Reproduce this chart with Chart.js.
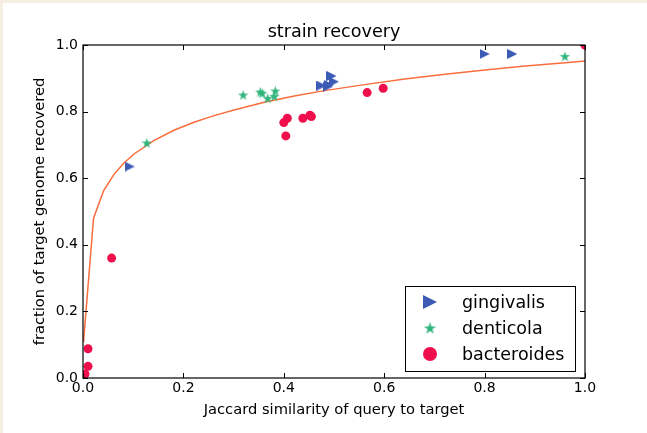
<!DOCTYPE html>
<html><head><meta charset="utf-8">
<script src="https://cdn.jsdelivr.net/npm/chart.js@4"></script>
<style>
html,body{margin:0;padding:0;background:#f4efe2;}
#wrap{position:absolute;left:3px;top:3px;width:644px;height:430px;background:#fff;}
canvas{display:block;}
</style></head><body>
<div id="wrap"><canvas id="c" width="644" height="430"></canvas></div>
<script>
const TITLE = 'strain recovery';
const X_LABEL = 'Jaccard similarity of query to target';
const Y_LABEL = 'fraction of target genome recovered';
const SERIES_NAMES = ['gingivalis', 'denticola', 'bacteroides'];

const gingivalisX = [0.093, 0.475, 0.488, 0.490, 0.495, 0.500, 0.800, 0.855];
const gingivalisY = [0.635, 0.878, 0.875, 0.880, 0.907, 0.890, 0.973, 0.973];

const denticolaX = [0.127, 0.319, 0.353, 0.357, 0.368, 0.381, 0.383, 0.960];
const denticolaY = [0.706, 0.850, 0.859, 0.855, 0.840, 0.846, 0.862, 0.966];

const bacteroidesX = [0.000, 0.004, 0.010, 0.010, 0.057, 0.400, 0.407, 0.404, 0.438, 0.452, 0.455, 0.566, 0.598, 1.000];
const bacteroidesY = [0.000, 0.012, 0.035, 0.088, 0.360, 0.767, 0.780, 0.727, 0.780, 0.789, 0.785, 0.857, 0.870, 1.000];

const fitX = [0.001, 0.021, 0.041, 0.061, 0.081, 0.101, 0.141, 0.181, 0.221, 0.261, 0.301, 0.361, 0.421, 0.481, 0.561, 0.641, 0.721, 0.801, 0.881, 0.961, 1.000];
const fitY = [0.108, 0.480, 0.562, 0.610, 0.645, 0.672, 0.713, 0.744, 0.768, 0.788, 0.805, 0.828, 0.847, 0.863, 0.881, 0.898, 0.912, 0.925, 0.937, 0.947, 0.952];

const xTickValues = [0.0, 0.2, 0.4, 0.6, 0.8, 1.0];
const yTickValues = [0.0, 0.2, 0.4, 0.6, 0.8, 1.0];

const BLUE = '#3b5bb5', GREEN = '#2fb47b', RED = '#ee0f4c', ORANGE = '#fb6d3c';
const F = "'DejaVu Sans', sans-serif";

function makeTriangle(s, color) {
  const c = document.createElement('canvas'); c.width = s; c.height = s;
  const g = c.getContext('2d'); g.fillStyle = color;
  g.beginPath(); g.moveTo(0, 0); g.lineTo(s, s / 2); g.lineTo(0, s); g.closePath(); g.fill();
  return c;
}
function makeStar(s, color) {
  const c = document.createElement('canvas'); c.width = s; c.height = s;
  const g = c.getContext('2d'); g.fillStyle = color;
  const R = s / 2, r = R * 0.382, cx = s / 2, cy = s / 2 + R * 0.08;
  g.beginPath();
  for (let i = 0; i < 10; i++) {
    const a = -Math.PI / 2 + i * Math.PI / 5;
    const rr = i % 2 ? r : R;
    const px = cx + rr * Math.cos(a), py = cy + rr * Math.sin(a);
    i ? g.lineTo(px, py) : g.moveTo(px, py);
  }
  g.closePath(); g.fill();
  return c;
}
function makeCircle(d, color) {
  const c = document.createElement('canvas'); c.width = d; c.height = d;
  const g = c.getContext('2d'); g.fillStyle = color;
  g.beginPath(); g.arc(d / 2, d / 2, d / 2, 0, Math.PI * 2); g.fill();
  return c;
}
const triImg = makeTriangle(10, BLUE);
const starImg = makeStar(11, GREEN);
const legendIcons = [makeTriangle(14, BLUE), makeStar(13, GREEN), makeCircle(14, RED)];

const toPts = (xs, ys) => xs.map((x, i) => ({x, y: ys[i]}));

const frameTicks = {
  id: 'frameTicks',
  afterDraw(chart) {
    const {ctx, chartArea: a, scales: {x, y}} = chart;
    ctx.save();
    ctx.strokeStyle = '#000'; ctx.lineWidth = 1.2;
    ctx.strokeRect(a.left, a.top, a.right - a.left, a.bottom - a.top);
    ctx.lineWidth = 1;
    const L = 5;
    xTickValues.forEach(v => {
      const p = Math.round(x.getPixelForValue(v)) + 0.5;
      ctx.beginPath();
      ctx.moveTo(p, a.bottom); ctx.lineTo(p, a.bottom - L);
      ctx.moveTo(p, a.top); ctx.lineTo(p, a.top + L);
      ctx.stroke();
    });
    yTickValues.forEach(v => {
      const p = Math.round(y.getPixelForValue(v)) + 0.5;
      ctx.beginPath();
      ctx.moveTo(a.left, p); ctx.lineTo(a.left + L, p);
      ctx.moveTo(a.right, p); ctx.lineTo(a.right - L, p);
      ctx.stroke();
    });
    // title centred over the plot area
    ctx.font = '17.6px ' + F; ctx.fillStyle = '#000';
    ctx.textAlign = 'center'; ctx.textBaseline = 'middle';
    ctx.fillText(TITLE, (a.left + a.right) / 2, a.top - 12.5);
    ctx.restore();
  }
};

const boxLegend = {
  id: 'boxLegend',
  afterDatasetsDraw(chart) {
    const {ctx, chartArea: a} = chart;
    const w = 170, h = 85;
    const x0 = Math.round(a.right - 10 - w), y0 = Math.round(a.bottom - 7 - h);
    ctx.save();
    ctx.fillStyle = '#fff'; ctx.fillRect(x0, y0, w, h);
    ctx.strokeStyle = '#000'; ctx.lineWidth = 1;
    ctx.strokeRect(x0 + 0.5, y0 + 0.5, w, h);
    ctx.font = '17.5px ' + F; ctx.fillStyle = '#000'; ctx.textBaseline = 'middle'; ctx.textAlign = 'left';
    SERIES_NAMES.forEach((name, i) => {
      const cy = y0 + 16 + i * 26;
      const img = legendIcons[i];
      ctx.drawImage(img, x0 + 25 - img.width / 2, cy - img.height / 2);
      ctx.fillText(name, x0 + 57, cy + 1);
    });
    ctx.restore();
  }
};

Chart.defaults.color = '#000';
Chart.defaults.font.family = F;

new Chart(document.getElementById('c'), {
  type: 'scatter',
  data: {
    datasets: [
      {label: 'fit', type: 'line', data: toPts(fitX, fitY), borderColor: ORANGE, borderWidth: 1.5,
       pointRadius: 0, fill: false, tension: 0, order: 10, clip: 0},
      {label: SERIES_NAMES[0], data: toPts(gingivalisX, gingivalisY), pointStyle: triImg, pointRadius: 5, order: 3, clip: 0},
      {label: SERIES_NAMES[1], data: toPts(denticolaX, denticolaY), pointStyle: starImg, pointRadius: 5, order: 2, clip: 0},
      {label: SERIES_NAMES[2], data: toPts(bacteroidesX, bacteroidesY), pointStyle: 'circle', pointRadius: 4.5,
       backgroundColor: RED, borderWidth: 0, order: 1, clip: 0}
    ]
  },
  options: {
    responsive: false,
    animation: false,
    events: [],
    layout: {padding: {left: 0, top: 42, right: 62, bottom: 0}},
    plugins: {
      legend: {display: false},
      tooltip: {enabled: false},
      title: {display: false}
    },
    scales: {
      x: {
        type: 'linear', min: 0, max: 1,
        afterFit(s) { s.height = 55; },
        afterBuildTicks(s) { s.ticks = xTickValues.map(v => ({value: v})); },
        ticks: {padding: 2, font: {size: 14, family: F}, color: '#000', maxRotation: 0, autoSkip: false,
                callback: v => Number(v).toFixed(1)},
        grid: {display: false, drawTicks: false},
        border: {display: false},
        title: {display: true, text: X_LABEL, color: '#000', font: {size: 14.7, family: F}, padding: {top: 0, bottom: 14}}
      },
      y: {
        type: 'linear', min: 0, max: 1,
        afterFit(s) { s.width = 80; },
        afterBuildTicks(s) { s.ticks = yTickValues.map(v => ({value: v})); },
        ticks: {padding: 5, font: {size: 14, family: F}, color: '#000', autoSkip: false,
                callback: v => Number(v).toFixed(1)},
        grid: {display: false, drawTicks: false},
        border: {display: false},
        title: {display: true, text: Y_LABEL, color: '#000', font: {size: 14.7, family: F}, padding: {top: 28, bottom: 0}}
      }
    }
  },
  plugins: [boxLegend, frameTicks]
});
</script>
</body></html>
